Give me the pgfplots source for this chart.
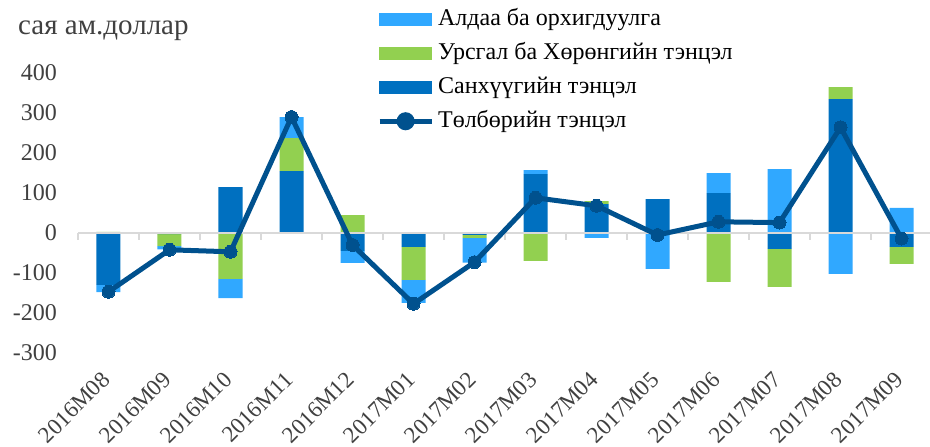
\documentclass[border=0pt]{standalone}
\usepackage{fontspec}
\setmainfont{Liberation Serif}
\usepackage{pgfplots}
\usepackage{pgfplotstable}
\pgfplotsset{compat=1.18}
\definecolor{cLight}{HTML}{30A8FF}
\definecolor{cGreen}{HTML}{92D050}
\definecolor{cDark}{HTML}{0070C0}
\definecolor{cLine}{HTML}{00518E}
\definecolor{cTick}{HTML}{404040}
\definecolor{cGrid}{HTML}{D9D9D9}

\pgfplotstableread{
x  dp  gp  lp  dn   gn   ln   t
0  0   3   0   -130 0    -18  -147
1  0   0   0   -3   -30  -8   -42
2  115 0   0   0    -115 -48  -47
3  155 82  53  0    0    0    290
4  0   45  0   -45  0    -30  -30
5  0   0   0   -35  -82  -58  -177
6  0   0   0   -5   -7   -62  -73
7  147 0   10  0    -70  0    88
8  72  8   0   0    0    -12  68
9  85  0   0   0    0    -90  -5
10 100 0   50  0    -122 0    28
11 0   0   160 -40  -95  0    26
12 335 30  0   0    0    -102 264
13 0   0   63  -35  -42  0    -14
}\data

\pgfplotstableread{
x    y
-0.5 -17
0.5  -17
1.5  -17
2.5  -17
3.5  -17
4.5  -17
5.5  -17
6.5  -17
7.5  -17
8.5  -17
9.5  -17
10.5 -17
11.5 -17
12.5 -17
13.5 -17
}\ticksdata

\begin{document}
\begin{tikzpicture}
\begin{axis}[
  name=ax, at={(0,0)}, anchor=south west,
  scale only axis, width=854pt, height=280pt,
  xmin=-0.5, xmax=13.5, ymin=-300, ymax=400,
  ybar stacked, bar width=24pt,
  axis line style={draw=none}, tick style={draw=none},
  ytick={-300,-200,-100,0,100,200,300,400},
  yticklabels={-300,-200,-100,0,100,200,300,400},
  yticklabel style={inner sep=0pt, xshift=-21pt, text=cTick, font=\fontsize{24}{28}\selectfont},
  xtick={0,...,13},
  xticklabels={\rotatebox{45}{2016M08},\rotatebox{45}{2016M09},\rotatebox{45}{2016M10},\rotatebox{45}{2016M11},\rotatebox{45}{2016M12},\rotatebox{45}{2017M01},\rotatebox{45}{2017M02},\rotatebox{45}{2017M03},\rotatebox{45}{2017M04},\rotatebox{45}{2017M05},\rotatebox{45}{2017M06},\rotatebox{45}{2017M07},\rotatebox{45}{2017M08},\rotatebox{45}{2017M09}},
  xticklabel style={anchor=north east, inner sep=0pt, xshift=3pt, yshift=-17pt, text=cTick, font=\fontsize{23}{27}\selectfont},
  clip=false,
]
\addplot[fill=cDark, draw=none] table[x=x,y=dp]{\data};
\addplot[fill=cGreen, draw=none] table[x=x,y=gp]{\data};
\addplot[fill=cLight, draw=none] table[x=x,y=lp]{\data};
\addplot[fill=cDark, draw=none] table[x=x,y=dn]{\data};
\addplot[fill=cGreen, draw=none] table[x=x,y=gn]{\data};
\addplot[fill=cLight, draw=none] table[x=x,y=ln]{\data};
\end{axis}
\begin{axis}[
  at={(0,0)}, anchor=south west,
  scale only axis, width=854pt, height=280pt,
  xmin=-0.5, xmax=13.5, ymin=-300, ymax=400,
  axis lines=none, clip=false,
  legend style={at={(0.350,1.232)}, anchor=north west, draw=none, fill=none,
    font=\fontsize{24}{28}\selectfont, inner sep=0pt, row sep=12pt, column sep=4pt,
    nodes={inner sep=0pt, text height=17pt, text depth=5pt}},
  legend cell align=left,
]
\addlegendimage{legend image code/.code={\fill[cLight] (0pt,-6pt) rectangle (52pt,6pt);}}
\addlegendentry{Алдаа ба орхигдуулга}
\addlegendimage{legend image code/.code={\fill[cGreen] (0pt,-6pt) rectangle (52pt,6pt);}}
\addlegendentry{Урсгал ба Хөрөнгийн тэнцэл}
\addlegendimage{legend image code/.code={\fill[cDark] (0pt,-6pt) rectangle (52pt,6pt);}}
\addlegendentry{Санхүүгийн тэнцэл}
\addplot[cGrid, line width=2pt, forget plot] coordinates {(-0.5,0) (13.5,0)};
\addplot[cGrid, line width=1.5pt, ycomb, forget plot] table[x=x,y=y]{\ticksdata};
\addplot[cLine, line width=5pt, mark=*, mark size=6.5pt,
  mark options={fill=cLine, draw=cLine, line width=0pt},
  legend image code/.code={\draw[cLine, line width=5pt] (0pt,0pt) -- (52pt,0pt); \fill[cLine] (26pt,0pt) circle (6.5pt);}]
  table[x=x,y=t]{\data};
\addlegendentry{Төлбөрийн тэнцэл}
\end{axis}
\node[anchor=base west, text=cTick, font=\fontsize{29}{33}\selectfont, inner sep=0pt] at ([shift={(-60pt,318pt)}]ax.south west) {сая ам.доллар};
\pgfresetboundingbox
\path[use as bounding box] ([shift={(-78pt,-94pt)}]ax.south west) rectangle ([shift={(852pt,353pt)}]ax.south west);
\end{tikzpicture}
\end{document}
